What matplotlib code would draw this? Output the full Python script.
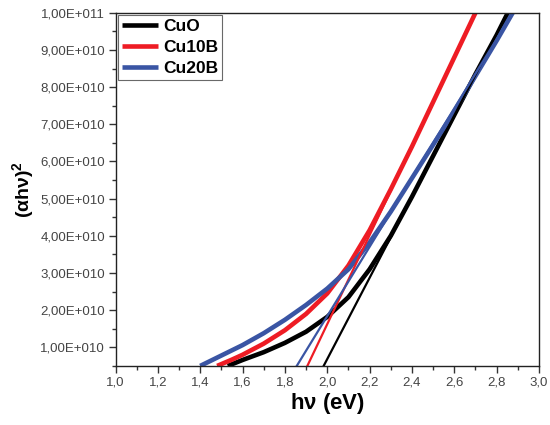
import matplotlib
matplotlib.use("Agg")
import matplotlib.pyplot as plt
from matplotlib.ticker import FuncFormatter, MultipleLocator

plt.rcParams['font.family'] = ['Liberation Sans', 'DejaVu Sans']
plt.rcParams['mathtext.fontset'] = 'custom'
plt.rcParams['mathtext.rm'] = 'Liberation Sans'
plt.rcParams['mathtext.bf'] = 'Liberation Sans:bold'

# Tauc curves (thick), y in units of 1e10
cuo_x = [1.53, 1.60, 1.70, 1.80, 1.90, 2.00, 2.10, 2.20, 2.30, 2.40, 2.50, 2.60, 2.70, 2.80, 2.853]
cuo_y = [0.50, 0.66, 0.87, 1.12, 1.42, 1.82, 2.35, 3.10, 4.00, 5.05, 6.15, 7.25, 8.35, 9.40, 10.0]

cu10b_x = [1.48, 1.55, 1.60, 1.70, 1.80, 1.90, 2.00, 2.10, 2.20, 2.30, 2.40, 2.50, 2.60, 2.70]
cu10b_y = [0.50, 0.67, 0.80, 1.10, 1.46, 1.90, 2.45, 3.20, 4.15, 5.25, 6.40, 7.60, 8.80, 10.0]

cu20b_x = [1.40, 1.50, 1.60, 1.70, 1.80, 1.90, 2.00, 2.10, 2.20, 2.30, 2.40, 2.50, 2.60, 2.70, 2.80, 2.876]
cu20b_y = [0.50, 0.78, 1.06, 1.38, 1.74, 2.14, 2.58, 3.10, 3.82, 4.65, 5.55, 6.45, 7.35, 8.30, 9.25, 10.0]

# linear fits (thin), end points
cuo_fit_x = [1.983, 2.853]
cuo_fit_y = [0.5, 10.0]
cu10b_fit_x = [1.906, 2.70]
cu10b_fit_y = [0.5, 10.0]
cu20b_fit_x = [1.856, 2.876]
cu20b_fit_y = [0.5, 10.0]

labels = ["CuO", "Cu10B", "Cu20B"]
colors = ["#000000", "#ee1c24", "#3a55a4"]

fig = plt.figure(figsize=(5.5, 4.25), dpi=100)
ax = fig.add_axes([0.210, 0.139, 0.770, 0.831])

curves = [(cuo_x, cuo_y), (cu10b_x, cu10b_y), (cu20b_x, cu20b_y)]
fits = [(cuo_fit_x, cuo_fit_y), (cu10b_fit_x, cu10b_fit_y), (cu20b_fit_x, cu20b_fit_y)]
for (cx, cy), lab, col in zip(curves, labels, colors):
    ax.plot(cx, [v * 1e10 for v in cy], color=col, lw=3.3, label=lab, solid_capstyle='butt')
for (fx, fy), col in zip(fits, colors):
    ax.plot(fx, [v * 1e10 for v in fy], color=col, lw=1.6)

ax.set_xlim(1.0, 3.0)
ax.set_ylim(0.5e10, 1e11)
ax.xaxis.set_major_locator(MultipleLocator(0.2))
ax.xaxis.set_minor_locator(MultipleLocator(0.1))
ax.yaxis.set_major_locator(MultipleLocator(1e10))
ax.yaxis.set_minor_locator(MultipleLocator(0.5e10))
ax.xaxis.set_major_formatter(FuncFormatter(lambda v, p: f"{v:.1f}".replace('.', ',')))


def sci(v, p):
    if v <= 0:
        return ""
    e = 0
    m = v
    while m >= 10:
        m /= 10
        e += 1
    return f"{m:.2f}".replace('.', ',') + f"E+{e:03d}"


ax.yaxis.set_major_formatter(FuncFormatter(sci))
ax.tick_params(which='major', direction='out', length=5, width=1, labelsize=9.5, colors='#333333',
               labelcolor='#444444', pad=2.5)
ax.tick_params(which='minor', direction='out', length=3, width=1, colors='#333333')
for s in ax.spines.values():
    s.set_linewidth(1.0)
    s.set_color('#222222')

ax.set_xlabel("h\u03bd $\\mathregular{(eV)}$", fontsize=16, fontweight='bold', labelpad=2)
ax.set_ylabel("(\u03b1h\u03bd)$^{\\mathregular{2}}$", fontsize=14, fontweight='bold')
ax.yaxis.set_label_coords(-0.185, 0.5)

leg = ax.legend(loc='upper left', prop={'weight': 'bold', 'size': 12.5},
                frameon=True, fancybox=False, handlelength=2.1, handletextpad=0.3,
                borderpad=0.2, labelspacing=0.35, borderaxespad=0.15)
leg.get_frame().set_edgecolor('#444444')
leg.get_frame().set_linewidth(0.8)

fig.savefig("out.png", dpi=100)
